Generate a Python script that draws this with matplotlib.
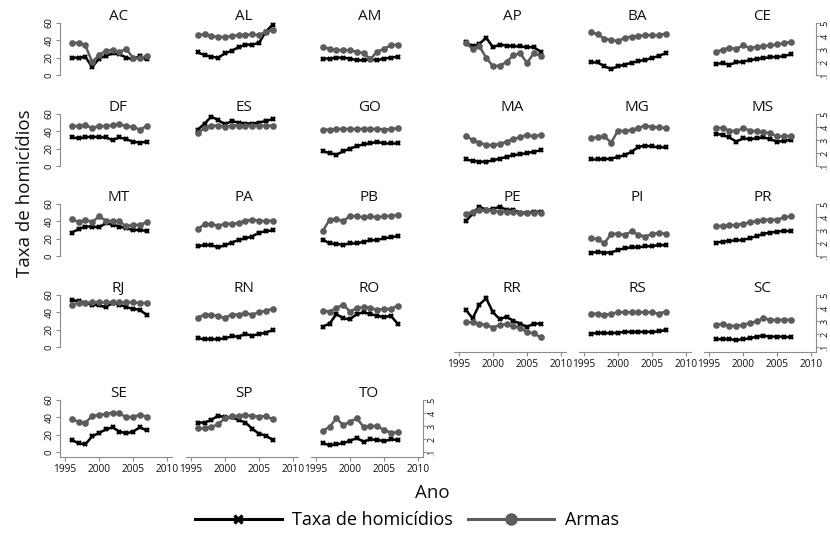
import matplotlib
matplotlib.use("Agg")
import matplotlib.pyplot as plt
from matplotlib.lines import Line2D

plt.rcParams['font.family'] = ['Open Sans', 'DejaVu Sans']

anos = [1996, 1997, 1998, 1999, 2000, 2001, 2002, 2003, 2004, 2005, 2006, 2007]

estados = ["AC", "AL", "AM", "AP", "BA", "CE",
           "DF", "ES", "GO", "MA", "MG", "MS",
           "MT", "PA", "PB", "PE", "PI", "PR",
           "RJ", "RN", "RO", "RR", "RS", "SC",
           "SE", "SP", "TO"]

taxa = {
    "AC": [20, 20, 21, 9, 19, 22, 25, 24, 20, 18, 22, 18],
    "AL": [26, 23, 21, 20, 25, 28, 32, 35, 35, 37, 50, 58],
    "AM": [19, 19, 20, 20, 19, 17, 17, 18, 17, 19, 20, 21],
    "AP": [38, 33, 36, 43, 32, 35, 34, 33, 33, 32, 32, 27],
    "BA": [14.5, 14.5, 10, 7, 10, 12, 14, 16, 17.5, 19.5, 22, 25],
    "CE": [13, 13.5, 12, 14.5, 15.5, 17, 18.5, 19.5, 20.5, 21, 21.5, 24],
    "DF": [33, 32, 33, 34, 33, 33, 30, 33, 31, 28, 27, 28],
    "ES": [42, 49, 57, 53, 48, 52, 50, 49, 49, 50, 52, 54],
    "GO": [17, 15, 13, 17, 20, 23, 25, 26, 28, 26, 26, 26],
    "MA": [7.5, 6, 5, 5, 6.5, 8.5, 10.5, 12.5, 13.5, 15, 16.5, 18],
    "MG": [7.5, 7.5, 8, 8.5, 10.5, 12.5, 16.5, 22, 23.5, 22.5, 21.5, 21.5],
    "MS": [37, 36, 33, 28, 32, 31, 32, 33, 31, 28, 29, 30],
    "MT": [27, 31, 34, 34, 33, 38, 36, 34, 32, 30, 30, 29],
    "PA": [11.5, 12.5, 12.5, 10, 12.5, 15.5, 18.5, 20.5, 22.5, 27, 28.5, 29.5],
    "PB": [19, 14.5, 14, 13, 14.5, 14.5, 16.5, 18, 18.5, 20.5, 21.5, 23],
    "PE": [40, 49, 57, 53, 54, 57, 53, 53, 50, 50, 51, 51],
    "PI": [4, 4.5, 4, 4, 7, 9, 10, 10, 11, 11.5, 12.5, 12.5],
    "PR": [15.5, 16.5, 17.5, 18, 18.5, 20.5, 23, 25.5, 27, 28, 29, 28.5],
    "RJ": [54, 53, 51, 49, 48, 46, 51, 49, 46, 44, 43, 37],
    "RN": [10, 9, 9, 9, 10, 12.5, 12, 15, 13, 15, 16.5, 19.5],
    "RO": [23.5, 27, 38, 33, 32, 38, 40, 38, 36, 34.5, 36, 27],
    "RR": [43, 33, 49, 56, 40, 32, 35, 30, 27, 23, 27, 27],
    "RS": [15, 16.5, 16, 16, 16.5, 17.5, 17.5, 17.5, 17.5, 17.5, 18, 19.5],
    "SC": [9, 9, 9, 8, 9, 10, 12, 13, 12, 12, 12, 11],
    "SE": [14, 10, 9, 18, 22, 26, 28.5, 23.5, 21.5, 23.5, 28.5, 25],
    "SP": [34, 34, 37, 42, 40, 40, 37, 34, 27, 21, 19, 14],
    "TO": [10, 8, 9, 10, 13, 16, 12, 14.5, 14, 12.5, 14.5, 14],
}

armas = {
    "AC": [0.347, 0.347, 0.327, 0.20, 0.253, 0.287, 0.293, 0.277, 0.30, 0.233, 0.227, 0.247],
    "AL": [0.407, 0.413, 0.40, 0.393, 0.393, 0.40, 0.407, 0.407, 0.413, 0.407, 0.433, 0.447],
    "AM": [0.317, 0.30, 0.29, 0.293, 0.29, 0.28, 0.267, 0.223, 0.28, 0.30, 0.33, 0.333],
    "AP": [0.347, 0.30, 0.32, 0.233, 0.167, 0.173, 0.20, 0.253, 0.267, 0.193, 0.267, 0.247],
    "BA": [0.43, 0.413, 0.38, 0.37, 0.36, 0.387, 0.395, 0.40, 0.406, 0.406, 0.406, 0.419],
    "CE": [0.275, 0.296, 0.309, 0.301, 0.327, 0.309, 0.315, 0.322, 0.327, 0.335, 0.343, 0.356],
    "DF": [0.407, 0.407, 0.413, 0.393, 0.407, 0.407, 0.413, 0.42, 0.407, 0.40, 0.38, 0.407],
    "ES": [0.353, 0.393, 0.411, 0.411, 0.40, 0.411, 0.411, 0.411, 0.411, 0.411, 0.411, 0.411],
    "GO": [0.38, 0.38, 0.385, 0.385, 0.385, 0.385, 0.385, 0.385, 0.385, 0.38, 0.385, 0.39],
    "MA": [0.333, 0.30, 0.28, 0.262, 0.262, 0.27, 0.288, 0.307, 0.322, 0.34, 0.327, 0.34],
    "MG": [0.313, 0.322, 0.327, 0.28, 0.373, 0.367, 0.38, 0.393, 0.411, 0.40, 0.398, 0.393],
    "MS": [0.393, 0.393, 0.373, 0.367, 0.393, 0.373, 0.367, 0.359, 0.353, 0.327, 0.327, 0.333],
    "MT": [0.387, 0.36, 0.38, 0.36, 0.405, 0.373, 0.367, 0.367, 0.327, 0.34, 0.34, 0.359],
    "PA": [0.307, 0.345, 0.345, 0.333, 0.348, 0.348, 0.353, 0.373, 0.379, 0.373, 0.367, 0.373],
    "PB": [0.293, 0.379, 0.384, 0.367, 0.41, 0.405, 0.397, 0.405, 0.397, 0.405, 0.41, 0.413],
    "PE": [0.425, 0.44, 0.453, 0.453, 0.449, 0.44, 0.44, 0.44, 0.428, 0.428, 0.433, 0.433],
    "PI": [0.242, 0.229, 0.198, 0.271, 0.271, 0.263, 0.289, 0.263, 0.25, 0.271, 0.276, 0.271],
    "PR": [0.327, 0.333, 0.335, 0.34, 0.348, 0.359, 0.367, 0.379, 0.379, 0.379, 0.397, 0.405],
    "RJ": [0.425, 0.439, 0.439, 0.443, 0.443, 0.443, 0.443, 0.443, 0.443, 0.443, 0.439, 0.439],
    "RN": [0.325, 0.35, 0.35, 0.335, 0.325, 0.35, 0.35, 0.36, 0.35, 0.367, 0.38, 0.393],
    "RO": [0.38, 0.373, 0.40, 0.425, 0.373, 0.40, 0.407, 0.40, 0.387, 0.392, 0.392, 0.418],
    "RR": [0.29, 0.29, 0.28, 0.27, 0.25, 0.27, 0.275, 0.26, 0.245, 0.215, 0.205, 0.175],
    "RS": [0.356, 0.356, 0.348, 0.356, 0.367, 0.367, 0.367, 0.367, 0.367, 0.367, 0.356, 0.373],
    "SC": [0.271, 0.278, 0.263, 0.263, 0.271, 0.283, 0.297, 0.322, 0.309, 0.309, 0.309, 0.309],
    "SE": [0.353, 0.333, 0.325, 0.377, 0.385, 0.392, 0.403, 0.397, 0.367, 0.372, 0.385, 0.372],
    "SP": [0.282, 0.282, 0.29, 0.315, 0.359, 0.377, 0.377, 0.385, 0.377, 0.372, 0.377, 0.351],
    "TO": [0.264, 0.293, 0.359, 0.307, 0.333, 0.359, 0.293, 0.30, 0.30, 0.269, 0.249, 0.251],
}

xticks = [1995, 2000, 2005, 2010]
yticks_taxa = [0, 20, 40, 60]
yticks_armas = [0.1, 0.2, 0.3, 0.4, 0.5]
ylabels_armas = [".1", ".2", ".3", ".4", ".5"]

# ---- layout (pixels) ----
W, H = 830, 533
col_x1995 = [65, 191, 316, 459, 584, 709]
row_y0 = [75, 166, 256, 347, 452]
PX_YR = 6.8
PX_UNIT = 52 / 60
XMIN, XMAX = 1994.2, 2010.8
YMIN, YMAX = -6, 66
A_MIN = 0.1 + YMIN * 0.4 / 60
A_MAX = 0.1 + YMAX * 0.4 / 60

AXIS_COL = '#8c8c8c'
BLACK = '#000000'
GRAY = '#5c5c5c'
TXT = '#111111'

fig = plt.figure(figsize=(W / 100, H / 100), dpi=100)

for i, st in enumerate(estados):
    r, c = divmod(i, 6)
    n_in_row = 6 if r < 4 else 3
    is_first = c == 0
    is_last = c == n_in_row - 1
    has_x = (r == 4) or (r == 3 and c >= 3)

    left = col_x1995[c] - (1995 - XMIN) * PX_YR
    width = (XMAX - XMIN) * PX_YR
    top = row_y0[r] - YMAX * PX_UNIT
    bottom = row_y0[r] - YMIN * PX_UNIT
    ax = fig.add_axes([left / W, 1 - bottom / H, width / W, (bottom - top) / H])
    ax.set_xlim(XMIN, XMAX)
    ax.set_ylim(YMIN, YMAX)
    ax.patch.set_visible(False)
    ax.plot(anos, taxa[st], color=BLACK, lw=1.8, marker='x', ms=3.4, mew=1.7,
            solid_joinstyle='round', zorder=3)

    ax2 = ax.twinx()
    ax2.set_ylim(A_MIN, A_MAX)
    ax2.plot(anos, armas[st], color=GRAY, lw=1.8, marker='o', ms=4.8, mew=0,
             solid_joinstyle='round', zorder=3)

    for a in (ax, ax2):
        for s in a.spines.values():
            s.set_visible(False)
            s.set_color(AXIS_COL)
            s.set_linewidth(0.8)

    ax.set_xticks(xticks)
    ax.set_yticks(yticks_taxa)
    ax2.set_yticks(yticks_armas)
    ax2.set_yticklabels(ylabels_armas)

    ax.tick_params(axis='x', bottom=has_x, labelbottom=has_x, top=False,
                   length=3, width=0.8, color=AXIS_COL, labelsize=7.3, pad=2,
                   labelcolor=TXT)
    ax.tick_params(axis='y', left=is_first, labelleft=is_first, right=False,
                   labelright=False, length=3, width=0.8, color=AXIS_COL,
                   labelsize=6.8, pad=1.5, labelrotation=90, labelcolor=TXT)
    ax2.tick_params(axis='y', right=is_last, labelright=is_last, left=False,
                    labelleft=False, length=2.5, width=0.8, color=AXIS_COL,
                    labelsize=6.3, pad=0.6, labelrotation=90, labelcolor=TXT)
    for lab in ax.get_yticklabels():
        lab.set_va('center')
    for lab in ax2.get_yticklabels():
        lab.set_va('center')

    if is_first:
        ax.spines['left'].set_visible(True)
        ax.spines['left'].set_bounds(YMIN if has_x else 0, 60)
    if is_last:
        ax2.spines['right'].set_visible(True)
        ax2.spines['right'].set_bounds(A_MIN if has_x else 0.1, 0.5)
    if has_x:
        ax.spines['bottom'].set_visible(True)

    ax.text(0.52, 63.2, st, transform=ax.get_yaxis_transform(), ha='center',
            va='baseline', fontsize=11, color=TXT)

fig.text(25 / W, 1 - 193 / H, "Taxa de homicídios", rotation=90, fontsize=13.5,
         ha='center', va='center', color=TXT)
fig.text(432 / W, 1 - 493 / H, "Ano", fontsize=13.5, ha='center', va='center',
         color=TXT)

handles = [
    Line2D([], [], color=BLACK, lw=2.2, marker='x', ms=6, mew=2.4),
    Line2D([], [], color=GRAY, lw=2.2, marker='o', ms=9, mew=0),
]
fig.legend(handles, ["Taxa de homicídios", "Armas"], loc='center',
           bbox_to_anchor=(407 / W, 1 - 520 / H), ncol=2, frameon=False,
           fontsize=13, handlelength=4.8, handletextpad=0.6,
           columnspacing=0.8, numpoints=1, borderaxespad=0, borderpad=0)

fig.savefig("out.png", dpi=100)
